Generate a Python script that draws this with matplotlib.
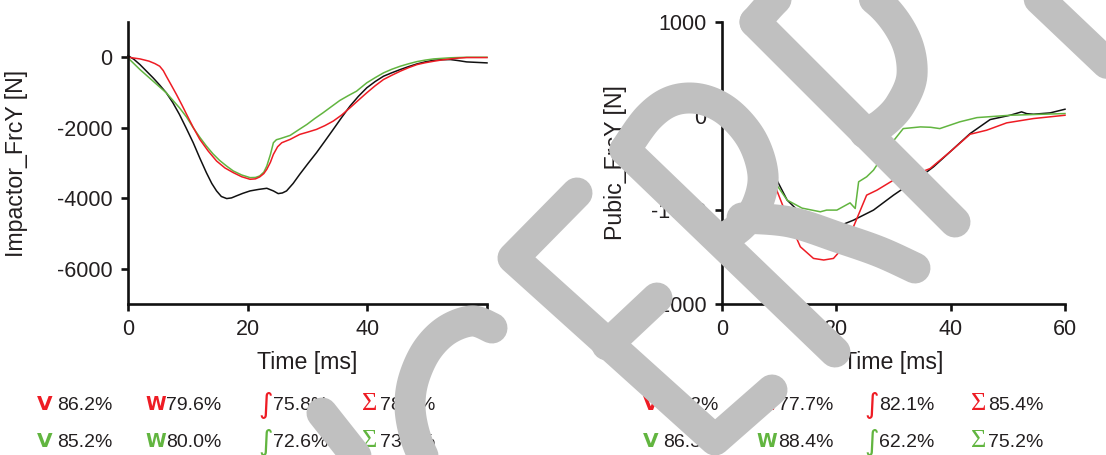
import numpy as np
import matplotlib
matplotlib.use("Agg")
import matplotlib.pyplot as plt

# ---------------- data ----------------
# Left panel: Impactor_FrcY [N]
imp_black_t = [0, 1, 2, 3, 4.2, 5.3, 6.4, 7.5, 8.6, 9.7, 10.9, 12.0, 13.1, 14.0, 14.8, 15.6,
               16.5, 17.3, 18.1, 19.2, 20.4, 21.8, 23.2, 24.3, 25.1, 25.8, 26.5, 27.6, 28.7,
               30.1, 31.5, 32.9, 34.3, 35.7, 37.1, 38.5, 39.9, 41.3, 42.7, 44.1, 45.5, 46.9,
               48.3, 49.7, 51.1, 52.5, 53.9, 55.2, 56.6, 60]
imp_black_v = [47, -60, -208, -380, -585, -790, -1009, -1290, -1623, -2000, -2425, -2860, -3274,
               -3580, -3792, -3950, -4009, -3990, -3934, -3860, -3792, -3750, -3717, -3792,
               -3868, -3850, -3792, -3580, -3321, -3010, -2708, -2380, -2047, -1710, -1387,
               -1110, -868, -690, -538, -440, -349, -265, -189, -130, -85, -70, -66, -95,
               -132, -160]
imp_red_t = [0, 2, 3.5, 4.5, 5.3, 5.9, 6.4, 7.2, 8.1, 9.0, 9.8, 10.9, 12.0, 13.4, 14.8, 16.2,
             17.6, 19.0, 20.4, 21.3, 22.0, 22.7, 23.2, 23.8, 24.3, 25.0, 25.7, 27.1, 28.7,
             30.1, 31.5, 32.9, 34.3, 35.7, 37.1, 38.5, 39.9, 41.3, 42.7, 44.1, 45.5, 46.9,
             48.3, 49.7, 51.1, 52.5, 53.9, 55.2, 56.6, 60]
imp_red_v = [0, -47, -110, -180, -255, -380, -538, -780, -1057, -1350, -1623, -1990, -2330,
             -2660, -2943, -3140, -3274, -3390, -3462, -3450, -3396, -3300, -3179, -2980,
             -2755, -2540, -2425, -2330, -2189, -2120, -2047, -1940, -1811, -1640, -1434,
             -1220, -1009, -810, -632, -510, -396, -295, -208, -155, -113, -75, -47, -25, -9, -9]
imp_green_t = [0, 2, 4.2, 6.4, 8.6, 9.8, 10.9, 12.0, 13.1, 14.2, 15.3, 16.5, 17.6, 19.0, 20.4,
               21.3, 22.0, 22.7, 23.2, 23.8, 24.3, 24.8, 25.4, 27.1, 28.5, 29.9, 31.2, 32.6,
               34.0, 35.4, 36.8, 38.2, 39.9, 41.3, 42.7, 44.1, 45.5, 46.9, 48.3, 49.7, 51.1,
               53.9, 56.6, 60]
imp_green_v = [-19, -349, -679, -1009, -1434, -1700, -2000, -2270, -2519, -2740, -2925, -3090,
               -3226, -3340, -3415, -3410, -3368, -3260, -3085, -2760, -2425, -2340, -2311,
               -2217, -2060, -1906, -1740, -1575, -1400, -1226, -1090, -962, -726, -580, -443,
               -340, -255, -185, -123, -80, -47, -15, 0, 0]

# Right panel: Pubic_FrcY [N]
pub_black_t = [0, 3, 6, 9.3, 11.4, 13.5, 16.0, 18.5, 21.3, 23.0, 26.5, 30.0, 34.7, 37.0, 39.9,
               43.4, 46.9, 50.4, 52.4, 53.3, 54.5, 57.4, 60]
pub_black_v = [0, -60, -300, -647, -895, -1020, -1108, -1150, -1150, -1108, -1001, -842, -647,
               -541, -381, -187, -38, 8, 44, 25, 19, 33, 72]
pub_red_t = [0, 3, 6, 9.0, 11.4, 13.7, 16.0, 17.8, 19.5, 21.3, 23.0, 25.3, 27.1, 30.0, 33.5,
             36.4, 39.9, 43.4, 46.3, 49.8, 54.5, 60]
pub_red_v = [0, -60, -320, -700, -1072, -1391, -1515, -1532, -1515, -1391, -1178, -842, -789,
             -682, -629, -559, -381, -194, -151, -73, -27, 8]
pub_green_t = [0, 3, 6, 9.0, 11.4, 14.0, 17.2, 18.3, 20.1, 22.4, 23.3, 23.9, 25.3, 26.5, 29.4,
               31.7, 34.7, 36.5, 38.1, 41.6, 44.6, 50.4, 60]
pub_green_v = [0, -60, -310, -682, -895, -980, -1019, -1001, -1001, -924, -984, -700, -647,
               -576, -310, -134, -116, -120, -134, -62, -17, 8, 26]

x_ticks = [0, 20, 40, 60]
imp_yticks = [-6000, -4000, -2000, 0]
pub_yticks = [-2000, -1000, 0, 1000]

# rating rows: (symbol kind, colour, text)
left_rows = [
    [("v", "red", "86.2%"), ("w", "red", "79.6%"), ("int", "red", "75.8%"), ("sum", "red", "78.1%")],
    [("v", "green", "85.2%"), ("w", "green", "80.0%"), ("int", "green", "72.6%"), ("sum", "green", "73.8%")],
]
right_rows = [
    [("v", "red", "82.2%"), ("w", "red", "77.7%"), ("int", "red", "82.1%"), ("sum", "red", "85.4%")],
    [("v", "green", "86.3%"), ("w", "green", "88.4%"), ("int", "green", "62.2%"), ("sum", "green", "75.2%")],
]

RED = "#ee1c24"
GREEN = "#62b540"
BLACK = "#111111"
TXT = "#231f20"
COL = {"red": RED, "green": GREEN}

W, H = 1106, 455
fig = plt.figure(figsize=(W / 100, H / 100), dpi=100)
plt.rcParams["font.family"] = ["Liberation Sans", "DejaVu Sans"]


def px_axes(x0, y0, x1, y1):
    return fig.add_axes([x0 / W, 1 - y1 / H, (x1 - x0) / W, (y1 - y0) / H])


def style(ax, ylim, yticks, ylabel):
    ax.set_xlim(0, 60)
    ax.set_ylim(*ylim)
    ax.set_xticks(x_ticks)
    ax.set_yticks(yticks)
    ax.set_xticklabels([str(t) for t in x_ticks])
    ax.set_yticklabels([str(t) for t in yticks])
    for s in ("top", "right"):
        ax.spines[s].set_visible(False)
    for s in ("left", "bottom"):
        ax.spines[s].set_linewidth(1.9)
        ax.spines[s].set_color(BLACK)
    ax.tick_params(direction="out", length=5, width=1.9, labelsize=15.5, pad=6,
                   colors=BLACK, labelcolor=TXT)
    ax.set_xlabel("Time [ms]", fontsize=16.7, color=TXT)
    ax.xaxis.set_label_coords(0.5, -0.166)
    ax.set_ylabel(ylabel, fontsize=16.7, color=TXT)
    ax.patch.set_alpha(0)


ax1 = px_axes(128, 22, 487, 304)
ax1.plot(imp_black_t, imp_black_v, color=BLACK, lw=1.1, clip_on=False)
ax1.plot(imp_green_t, imp_green_v, color=GREEN, lw=1.1, clip_on=False)
ax1.plot(imp_red_t, imp_red_v, color=RED, lw=1.1, clip_on=False)
style(ax1, (-7000, 1000), imp_yticks, "Impactor_FrcY [N]")
ax1.yaxis.set_label_coords(-0.279, 0.5)

ax2 = px_axes(722, 22, 1065, 304)
ax2.plot(pub_black_t, pub_black_v, color=BLACK, lw=1.1, clip_on=False)
ax2.plot(pub_green_t, pub_green_v, color=GREEN, lw=1.1, clip_on=False)
ax2.plot(pub_red_t, pub_red_v, color=RED, lw=1.1, clip_on=False)
style(ax2, (-2000, 1000), pub_yticks, "Pubic_FrcY [N]")
ax2.yaxis.set_label_coords(-0.277, 0.5)


def ftext(x, y, s, **kw):
    fig.text(x / W, 1 - y / H, s, **kw)


def draw_rows(rows, num_x, icon_x):
    for r, row in enumerate(rows):
        yb = 410 + 37 * r
        for c, (kind, col, txt) in enumerate(row):
            color = COL[col]
            ix = icon_x[c]
            if kind == "v":
                ftext(ix, yb, "V", fontsize=14.5, fontweight="heavy", color=color,
                      family="DejaVu Sans", va="baseline", ha="left")
            elif kind == "w":
                ftext(ix - 1, yb, "W", fontsize=13.5, fontweight="heavy", color=color,
                      family="DejaVu Sans", va="baseline", ha="left")
            elif kind == "int":
                ftext(ix, yb + 3, "\u222b", fontsize=20, color=color,
                      family="DejaVu Sans", va="baseline", ha="left")
            else:
                ftext(ix, yb, "\u03a3", fontsize=19, color=color,
                      family="Liberation Serif", va="baseline", ha="left")
            ftext(num_x[c], yb, txt, fontsize=14, color=TXT, va="baseline", ha="left")


draw_rows(left_rows, [57, 166, 273, 380], [37, 146, 258, 362])
draw_rows(right_rows, [663, 778, 879, 988], [643, 757, 864, 971])

# ---------------- watermark overlay ----------------
wm = fig.add_axes([0, 0, 1, 1], zorder=10)
wm.set_xlim(0, W)
wm.set_ylim(H, 0)
wm.axis("off")
GRAY = "#c0c0c0"
LW = 31 * 72 / 100


def smooth(pts, n=12):
    p = np.asarray(pts, float)
    p = np.vstack([p[0], p, p[-1]])
    out = []
    for i in range(1, len(p) - 2):
        p0, p1, p2, p3 = p[i - 1], p[i], p[i + 1], p[i + 2]
        for t in np.linspace(0, 1, n, endpoint=False):
            t2, t3 = t * t, t * t * t
            out.append(0.5 * ((2 * p1) + (-p0 + p2) * t + (2 * p0 - 5 * p1 + 4 * p2 - p3) * t2
                              + (-p0 + 3 * p1 - 3 * p2 + p3) * t3))
    out.append(p[-2])
    return np.array(out)


def stroke(pts, curved=False):
    a = smooth(pts) if curved else np.asarray(pts, float)
    wm.plot(a[:, 0], a[:, 1], color=GRAY, lw=LW, solid_capstyle="round",
            solid_joinstyle="round", clip_on=False)


# small stroke left of C
stroke([(322, 413), (375, 480)])
# C
stroke([(492, 328), (472, 321), (447, 330), (427, 350), (414, 378), (410, 405),
        (414, 432), (424, 458), (440, 485)], curved=True)
# E
stroke([(577, 193), (513, 258), (715, 440), (772, 390)])
stroke([(607, 345), (657, 298)])
# R
stroke([(625, 150), (835, 352)])
stroke([(625, 150), (648, 118), (672, 101), (700, 99), (728, 112), (752, 140), (763, 175),
        (757, 205), (742, 225), (722, 240)], curved=True)
stroke([(742, 218), (790, 222), (840, 238), (880, 252), (915, 268)], curved=True)
# P
stroke([(755, 22), (955, 222)])
stroke([(755, 22), (790, -12), (835, -22), (878, 2), (905, 38), (912, 75), (900, 105),
        (882, 124), (865, 133)], curved=True)
# stroke at top right
stroke([(1035, -5), (1135, 90)])

fig.savefig("out.png", dpi=100)
